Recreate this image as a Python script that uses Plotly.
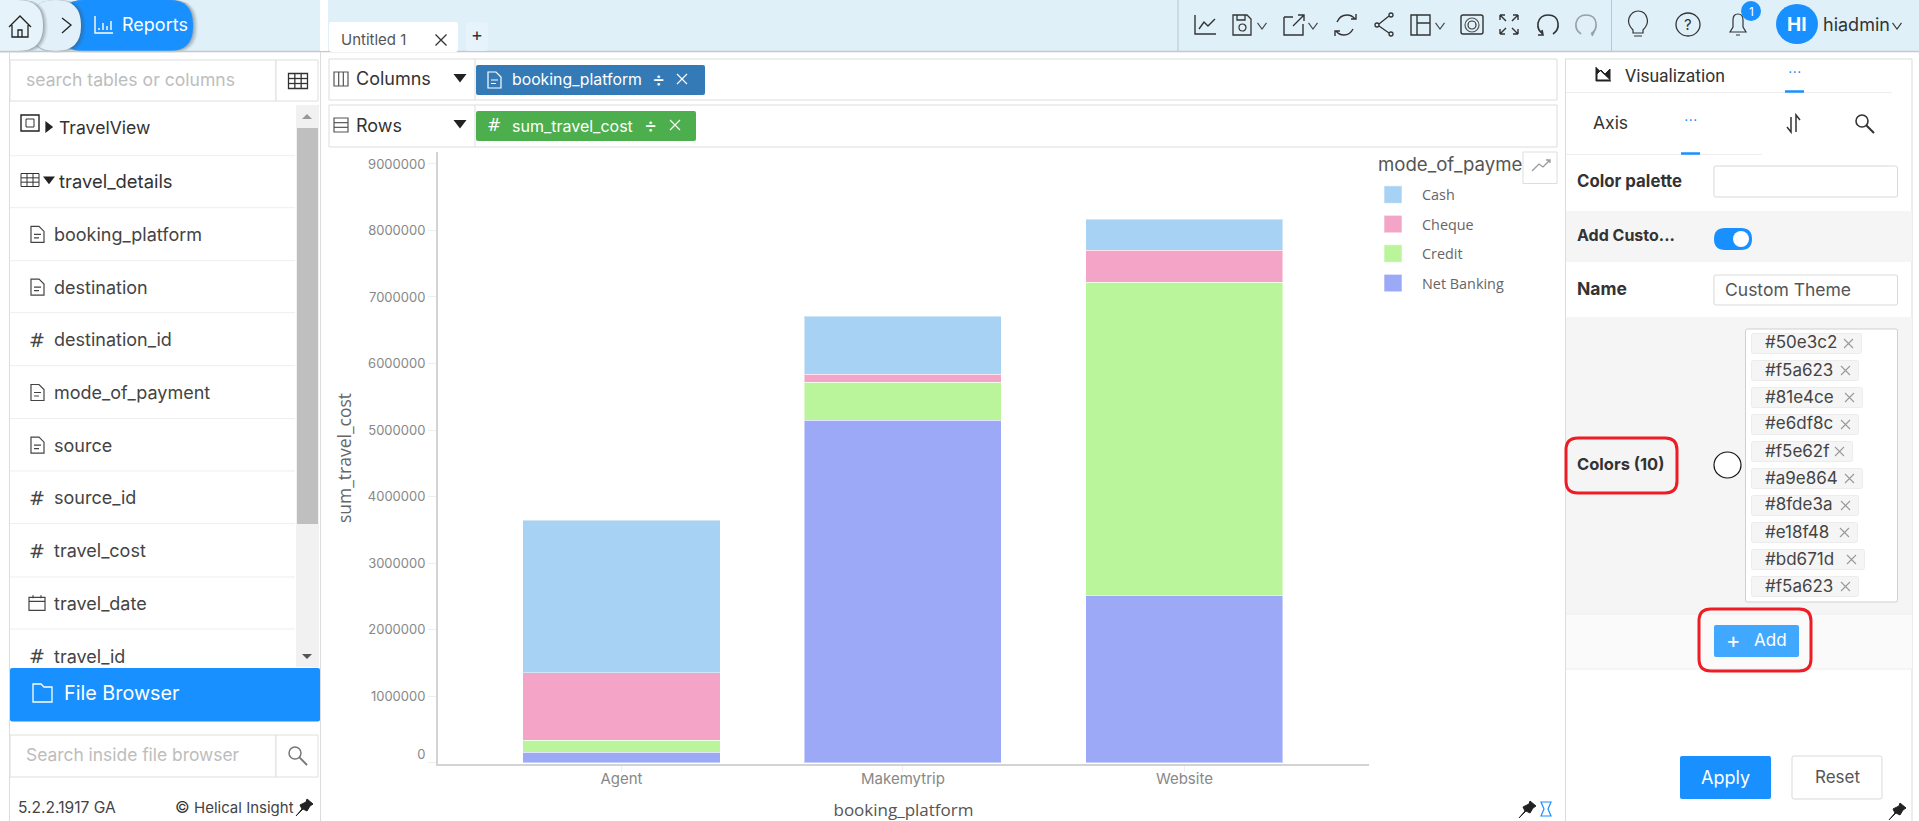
import re
import plotly.graph_objects as go

W, H = 1919, 821

# ---------- chart data ----------
platforms = ["Agent", "Makemytrip", "Website"]
net_banking = [157000, 5144000, 2510000]
credit = [176000, 575000, 4710000]
cheque = [1020000, 118000, 480000]
cash = [2287000, 875000, 470000]
y_ticks = [0, 1000000, 2000000, 3000000, 4000000, 5000000, 6000000, 7000000, 8000000, 9000000]
legend_names = ["Cash", "Cheque", "Credit", "Net Banking"]
legend_colors = ["#a8d2f3", "#f3a4c7", "#baf59c", "#9ba9f6"]

# ---------- interface texts ----------
field_names = ["booking_platform", "destination", "destination_id", "mode_of_payment",
               "source", "source_id", "travel_cost", "travel_date", "travel_id"]
field_kinds = ["doc", "doc", "num", "doc", "doc", "num", "num", "date", "num"]
color_tags = ["#50e3c2", "#f5a623", "#81e4ce", "#e6df8c", "#f5e62f",
              "#a9e864", "#8fde3a", "#e18f48", "#bd671d", "#f5a623"]

UI = "Inter"
OS = "Open Sans"
BLUE = "#1890ff"
shapes, notes = [], []


def fx(x):
    return x / W


def fy(y):
    return 1 - y / H


def rect(x0, y0, x1, y1, fill="rgba(0,0,0,0)", line=None, lw=1):
    shapes.append(dict(type="rect", xref="paper", yref="paper", x0=fx(x0), x1=fx(x1), y0=fy(y0), y1=fy(y1),
                       fillcolor=fill, line=dict(color=line or "rgba(0,0,0,0)", width=lw if line else 0)))


def oval(x0, y0, x1, y1, fill="rgba(0,0,0,0)", line=None, lw=1):
    shapes.append(dict(type="circle", xref="paper", yref="paper", x0=fx(x0), x1=fx(x1), y0=fy(y0), y1=fy(y1),
                       fillcolor=fill, line=dict(color=line or "rgba(0,0,0,0)", width=lw if line else 0)))


def path(d, line="#333", lw=1.5, fill="rgba(0,0,0,0)"):
    out, is_x = [], True
    for tok in re.findall(r"[MLQCZ]|-?[\d.]+", d):
        if tok in "MLQCZ":
            out.append(tok)
            is_x = True
        else:
            v = float(tok)
            out.append(f"{fx(v) if is_x else fy(v):.5f}")
            is_x = not is_x
    s, comma = "", True
    for tok in out:
        if tok in "MLQCZ":
            s += tok
            comma = True
        else:
            s += tok + ("," if comma else " ")
            comma = not comma
    shapes.append(dict(type="path", xref="paper", yref="paper", path=s, fillcolor=fill,
                       line=dict(color=line if line else "rgba(0,0,0,0)", width=lw if line else 0)))


def rrect(x0, y0, x1, y1, r, fill="rgba(0,0,0,0)", line=None, lw=1):
    path(f"M {x0+r} {y0} L {x1-r} {y0} Q {x1} {y0} {x1} {y0+r} L {x1} {y1-r} Q {x1} {y1} {x1-r} {y1} "
         f"L {x0+r} {y1} Q {x0} {y1} {x0} {y1-r} L {x0} {y0+r} Q {x0} {y0} {x0+r} {y0} Z",
         line=line, lw=lw, fill=fill)


def text(x, y, s, size=16, color="#333", font=UI, anchor="left", bold=False, angle=0):
    notes.append(dict(xref="paper", yref="paper", x=fx(x), y=fy(y), text=f"<b>{s}</b>" if bold else s,
                      showarrow=False, xanchor=anchor, yanchor="middle", textangle=angle,
                      borderpad=0, borderwidth=0, font=dict(family=font, size=size, color=color)))


def hline(x0, x1, y, c="#e8e8e8", lw=1):
    path(f"M {x0} {y} L {x1} {y}", line=c, lw=lw)


def vline(x, y0, y1, c="#ddd", lw=1):
    path(f"M {x} {y0} L {x} {y1}", line=c, lw=lw)


def cross(cx, cy, r, c="#333", lw=1.3):
    path(f"M {cx-r} {cy-r} L {cx+r} {cy+r} M {cx-r} {cy+r} L {cx+r} {cy-r}", line=c, lw=lw)


def doc_icon(cx, cy, c="#444"):
    path(f"M {cx-6} {cy-8} L {cx+2} {cy-8} L {cx+7} {cy-3} L {cx+7} {cy+8} L {cx-6} {cy+8} Z", line=c, lw=1.2)
    path(f"M {cx-3} {cy} L {cx+4} {cy} M {cx-3} {cy+3.5} L {cx+2} {cy+3.5}", line=c, lw=1.2)


def num_icon(cx, cy, c="#444"):
    text(cx, cy, "#", 19, c, "DejaVu Sans", "center")


def date_icon(cx, cy, c="#444"):
    rect(cx - 8, cy - 6, cx + 8, cy + 7, line=c, lw=1.2)
    path(f"M {cx-8} {cy-2} L {cx+8} {cy-2} M {cx-4} {cy-8} L {cx-4} {cy-5} M {cx+4} {cy-8} L {cx+4} {cy-5}", line=c, lw=1.2)


def grid_icon(cx, cy, w, h, rows, cols, c="#333", lw=1.2):
    rect(cx - w / 2, cy - h / 2, cx + w / 2, cy + h / 2, line=c, lw=lw)
    for i in range(1, rows):
        yy = cy - h / 2 + h * i / rows
        hline(cx - w / 2, cx + w / 2, yy, c, lw)
    for i in range(1, cols):
        xx = cx - w / 2 + w * i / cols
        vline(xx, cy - h / 2, cy + h / 2, c, lw)


def lens(cx, cy, r, c="#777", lw=1.5):
    oval(cx - r, cy - r, cx + r, cy + r, line=c, lw=lw)
    path(f"M {cx+r*0.7} {cy+r*0.7} L {cx+r*2} {cy+r*2}", line=c, lw=lw + 0.4)


def chevron(cx, cy, c="#444", r=4.5):
    path(f"M {cx-r} {cy-r*0.7} L {cx} {cy+r*0.7} L {cx+r} {cy-r*0.7}", line=c, lw=1.1)


def tri_down(cx, cy, r=6.5, c="#222"):
    path(f"M {cx-r} {cy-r*0.6} L {cx+r} {cy-r*0.6} L {cx} {cy+r*0.7} Z", line=None, fill=c)


def tri_right(cx, cy, r=6, c="#222"):
    path(f"M {cx-r*0.6} {cy-r} L {cx-r*0.6} {cy+r} L {cx+r*0.7} {cy} Z", line=None, fill=c)


def pin(cx, cy, c="#222"):
    path(f"M {cx-8} {cy+8} L {cx-2} {cy+1} L {cx-4} {cy-3} L {cx+2} {cy-6} L {cx+3} {cy-9} L {cx+9} {cy-4} "
         f"L {cx+6} {cy-2} L {cx+3} {cy+3} L {cx-1} {cy+1} Z", line=c, lw=1, fill=c)


def soft_shadow(x0, y0, x1, y1, r):
    for off, alpha in [(1, 0.14), (2, 0.12), (3, 0.10), (4, 0.07), (5, 0.05)]:
        rrect(x0, y0, x1 + off, y1 + off * 0.4, r, f"rgba(70,80,90,{alpha})")


# ---------- top bar ----------
rect(0, 0, W, 51, "#dff0f9")
soft_shadow(60, 0, 193, 51, 24)
rrect(60, 0, 193, 51, 24, BLUE)
soft_shadow(30, 0, 81, 51, 25)
rrect(30, 0, 81, 51, 25, "#e2f1f9")
soft_shadow(-30, 0, 43, 51, 25)
rrect(-30, 0, 43, 51, 25, "#e6f3fa")
hline(0, W, 51.5, "#c8c8c8", 1.5)
rect(320, 0, 328, 51, "#ffffff")
path("M 9 27 L 20 16 L 31 27 M 12 25 L 12 37 L 28 37 L 28 25 M 18 37 L 18 30 L 22 30 L 22 37", line="#222", lw=1.3)
path("M 62 18 L 71 25 L 62 33", line="#222", lw=1.3)
path("M 95 16 L 95 33 L 113 33 M 99 28 L 99 30 M 103 23 L 103 30 M 107 26 L 107 30 M 111 21 L 111 30", line="#fff", lw=1.4)
text(122, 25, "Reports", 18, "#ffffff")
# document tab
rrect(329, 22, 458, 52, 3, "#ffffff")
text(341, 40, "Untitled 1", 15, "#555")
cross(441, 40, 5.5, "#333", 1.3)
rrect(466, 22, 488, 51, 3, "#e6f3fa")
text(477, 35, "+", 18, "#333", anchor="center")
# toolbar
vline(1178, 0, 51, "#bcc6cc")
vline(1611.5, 0, 51, "#bcc6cc")
path("M 1195 15 L 1195 34 L 1216 34 M 1199 29 L 1204 22 L 1208 26 L 1215 19", line="#333", lw=1.4)
path("M 1233 15 L 1247 15 L 1251 19 L 1251 35 L 1233 35 Z M 1237 15 L 1237 20 L 1245 20 L 1245 15", line="#333", lw=1.3)
oval(1239, 24, 1246, 31, line="#333", lw=1.2)
chevron(1262, 26)
path("M 1284 17 L 1284 35 L 1303 35 L 1303 24 M 1284 17 L 1293 17 M 1293 26 L 1304 15 M 1298 15 L 1304 15 L 1304 21", line="#333", lw=1.4)
chevron(1313, 26)
path("M 1337 22 Q 1340 15 1347 15 Q 1352 15 1355 19 M 1353 29 Q 1350 35 1344 35 Q 1339 35 1336 31 M 1351 19 L 1356 19 L 1356 14 M 1340 31 L 1335 31 L 1335 36", line="#333", lw=1.4)
oval(1389, 13, 1393, 17, line="#333", lw=1.3)
oval(1375, 23, 1379, 27, line="#333", lw=1.3)
oval(1389, 32, 1393, 36, line="#333", lw=1.3)
path("M 1379 24 L 1389 16 M 1379 26 L 1389 33", line="#333", lw=1.3)
path("M 1411 15 L 1430 15 L 1430 35 L 1411 35 Z M 1417 15 L 1417 35 M 1417 23 L 1430 23", line="#333", lw=1.4)
chevron(1440, 26)
rrect(1461, 15, 1483, 34, 2, line="#333", lw=1.4)
oval(1465, 18, 1479, 32, line="#555", lw=1.2)
oval(1468, 21, 1476, 29, line="#333", lw=1.2)
path("M 1500 15 L 1506 21 M 1500 15 L 1505 15 M 1500 15 L 1500 20 M 1518 15 L 1512 21 M 1518 15 L 1513 15 M 1518 15 L 1518 20 "
     "M 1500 34 L 1506 28 M 1500 34 L 1505 34 M 1500 34 L 1500 29 M 1518 34 L 1512 28 M 1518 34 L 1513 34 M 1518 34 L 1518 29", line="#333", lw=1.4)
path("M 1543 34 Q 1537 30 1538 23 Q 1540 15 1548 15 Q 1557 15 1558 23 Q 1559 30 1553 34 M 1542 30 L 1543 35 L 1538 35", line="#333", lw=1.6)
path("M 1581 34 Q 1575 30 1576 23 Q 1578 15 1586 15 Q 1595 15 1596 23 Q 1597 30 1591 34 M 1595 30 L 1592 36", line="#97a0a5", lw=1.6)
path("M 1633 30 Q 1627 24 1629 18 Q 1632 11 1638 11 Q 1645 11 1647 18 Q 1649 24 1643 30 L 1643 33 L 1633 33 Z M 1634 36 L 1642 36", line="#333", lw=1.2)
oval(1676, 13, 1700, 36, line="#333", lw=1.3)
text(1688, 25, "?", 15, "#333", anchor="center")
path("M 1730 32 L 1733 27 L 1733 20 Q 1733 14 1738 14 Q 1743 14 1743 20 L 1743 27 L 1746 32 Z M 1736 35 L 1740 35", line="#333", lw=1.2)
oval(1741, 1, 1761, 21, BLUE)
text(1751, 11, "1", 12, "#fff", anchor="center")
oval(1776, 4, 1818, 44, BLUE)
text(1797, 25, "HI", 19, "#ffffff", anchor="center", bold=True)
text(1823, 25, "hiadmin", 18, "#333")
chevron(1897, 26, "#333")

# ---------- left panel ----------
vline(9.5, 52, H, "#dcdcdc")
vline(320.5, 52, H, "#dcdcdc")
rect(10, 60, 276, 101, "#ffffff", "#dedede")
text(26, 80, "search tables or columns", 17.6, "#bdbdbd")
rect(276, 60, 318, 101, "#ffffff", "#dedede")
grid_icon(298, 81, 19, 15, 3, 3, "#333", 1.3)
rect(296, 105, 319, 667, "#f1f1f1")
rect(297, 128, 318, 524, "#bfbfbf")
path("M 302 119 L 312 119 L 307 114 Z", line=None, fill="#999")
path("M 302 654 L 312 654 L 307 659 Z", line=None, fill="#555")
rect(21, 115, 39, 131, line="#222", lw=1.4)
rect(26, 119, 34, 127, line="#333", lw=1)
tri_right(49, 127, 6)
text(59, 127.5, "TravelView", 17.6, "#333")
grid_icon(30, 180, 18, 13, 3, 3, "#333", 1)
tri_down(49, 180, 6, "#222")
text(59, 180.5, "travel_details", 18.4, "#333")
for i, (name, kind) in enumerate(zip(field_names, field_kinds)):
    yy = 234.4 + i * 52.7
    text(54, yy, name, 18, "#444")
    {"doc": doc_icon, "num": num_icon, "date": date_icon}[kind](37, yy)
for yy in [155.7, 207.7, 260.7, 312.7, 365.7, 418.6, 471, 523.6, 577, 629]:
    hline(10, 295, yy, "#eeeeee")
rrect(10, 668, 320, 721.5, 2, BLUE)
path("M 33 684 L 41 684 L 44 687 L 52 687 L 52 702 L 33 702 Z", line="#fff", lw=1.3)
text(64, 693, "File Browser", 19.8, "#ffffff", bold=False)
rect(10, 735, 276, 777, "#ffffff", "#dedede")
text(26, 754, "Search inside file browser", 17.4, "#bdbdbd")
rect(276, 735, 318, 777, "#ffffff", "#dedede")
lens(295, 753, 6)
text(18, 807, "5.2.2.1917 GA", 15.6, "#444")
text(182, 807, "©", 16, "#333", anchor="center")
text(194, 807, "Helical Insight", 15, "#444")
pin(304, 808)

# ---------- shelves ----------
rect(329, 59, 1557, 100, "#ffffff", "#dddddd")
rect(329, 105, 1557, 147, "#ffffff", "#dddddd")
vline(475, 59, 100, "#dddddd")
vline(475, 105, 147, "#dddddd")
vline(320.5, 52, 60, "#dddddd")
grid_icon(341, 79, 14, 14, 1, 3, "#555", 1.2)
grid_icon(341, 125, 14, 14, 3, 1, "#555", 1.2)
text(356, 79, "Columns", 18, "#333")
text(356, 125, "Rows", 18, "#333")
tri_down(460, 78)
tri_down(460, 124)
rrect(476, 65, 705, 95, 2, "#337ab7")
doc_icon(494, 80, "#fff")
text(512, 80, "booking_platform", 15.8, "#ffffff")
text(658, 79, "÷", 20, "#fff", anchor="center")
cross(682, 79, 5, "#fff", 1.2)
rrect(476, 111, 696, 141, 2, "#4cae4c")
text(494, 125, "#", 17, "#fff", "DejaVu Sans", "center")
text(512, 126, "sum_travel_cost", 16, "#ffffff")
text(650, 125, "÷", 20, "#fff", anchor="center")
cross(675, 125, 5, "#fff", 1.2)

# ---------- chart legend, drawn from the series lists ----------
text(1378, 164, "mode_of_payme", 18.6, "#555", UI)
for i, (name, col) in enumerate(zip(legend_names, legend_colors)):
    cy = 194.8 + i * 29.5
    rect(1384, cy - 9, 1402, cy + 8.5, col, "rgba(255,255,255,0.6)")
    text(1421.5, cy, name, 14.4, "#666", OS)
rect(1523, 152, 1557, 183.5, "#ffffff", "#dddddd")
path("M 1532 171 L 1539 164 L 1543 167 L 1550 160 M 1546 160 L 1550 160 L 1550 163", line="#999", lw=1.3)
pin(1527, 810)
path("M 1541 802 L 1551 802 L 1548 809 L 1551 816 L 1541 816 L 1544 809 Z", line="#1890ff", lw=1.2)

# ---------- right panel ----------
vline(1565.5, 59, H, "#dcdcdc")
vline(1912, 59, H, "#dcdcdc")
hline(1565, 1912, 59, "#dcdcdc")
path("M 1596 67 L 1596 81 L 1611 81 M 1597 80 L 1597 74 L 1601 70 L 1605 74 L 1610 69 L 1610 80 Z", line="#222", lw=1, fill="#222")
text(1625, 76, "Visualization", 17.5, "#333", "Roboto")
text(1794, 72, "···", 14, BLUE, "DejaVu Sans", "center")
hline(1566, 1892, 92.5, "#eeeeee")
hline(1785, 1804, 91.5, BLUE, 2.5)
text(1593, 123, "Axis", 17.5, "#333")
text(1690.5, 120, "···", 14, BLUE, "DejaVu Sans", "center")
hline(1566, 1762, 154.5, "#eeeeee")
hline(1681, 1700, 153.5, BLUE, 2.5)
path("M 1791 117 L 1791 132 L 1787 127 M 1796 132 L 1796 115 L 1800 120", line="#333", lw=1.5)
lens(1862, 121, 6, "#333", 1.6)

rect(1566, 211, 1912, 262, "#f5f5f5")
rect(1566, 317, 1912, 614, "#f5f5f5")
rect(1566, 614, 1912, 669, "#fafafa")
hline(1566, 1912, 669, "#eeeeee")
hline(1566, 1912, 614, "#eeeeee")
text(1577, 181, "Color palette", 16.8, "#333", bold=True)
rrect(1714, 166, 1897.5, 197, 2, "#ffffff", "#d9d9d9")
text(1577, 235, "Add Custo...", 16, "#333", bold=True)
rrect(1714, 228, 1752, 250, 11, BLUE)
oval(1733, 231, 1749, 247, "#ffffff")
text(1577, 288.5, "Name", 17.5, "#333", bold=True)
rrect(1714, 275, 1897.5, 305, 2, "#ffffff", "#d9d9d9")
text(1725, 289, "Custom Theme", 17.5, "#555")
text(1577, 464, "Colors (10)", 16.5, "#333", bold=True)
oval(1714, 452, 1741, 478, "#ffffff", "#111111", 1.2)
rrect(1745.5, 329, 1897.5, 602, 2, "#ffffff", "#d0d0d0")
tag_widths = [110, 107, 111, 107, 101, 111, 107, 106, 113, 107]
for i, tag in enumerate(color_tags):
    cy = 343.5 + i * 27
    rrect(1751.5, cy - 10, 1751.5 + tag_widths[i], cy + 10, 2, "#f5f5f5", "#ececec")
    text(1765, cy - 1, tag, 17, "#444")
    cross(1751.5 + tag_widths[i] - 13, cy, 4.5, "#999", 1.1)
rrect(1714, 625, 1799, 657, 2, "#40a9ff")
text(1733, 640, "+", 22, "#ffffff", anchor="center")
text(1754, 640, "Add", 17, "#ffffff")
rrect(1680, 756, 1771, 799, 2, BLUE)
text(1725, 777, "Apply", 18, "#ffffff", anchor="center")
rrect(1792, 756, 1882, 799, 2, "#ffffff", "#d9d9d9")
text(1837, 777, "Reset", 17, "#555", anchor="center")
pin(1897, 812)
rrect(1566, 438, 1677, 493, 12, line="#ee1c25", lw=3)
rrect(1699, 609, 1811, 671, 12, line="#ee1c25", lw=3)

# ---------- figure ----------
fig = go.Figure()
series = [("Net Banking", net_banking), ("Credit", credit), ("Cheque", cheque), ("Cash", cash)]
for name, vals in series:
    col = legend_colors[legend_names.index(name)]
    fig.add_trace(go.Bar(x=platforms, y=vals, name=name, width=0.7, marker=dict(
        color=col, line=dict(color="rgba(255,255,255,0.45)", width=1))))

tick_text = ["0<br>&nbsp;"] + [str(v) for v in y_ticks[1:]]
fig.update_layout(
    width=W, height=H, margin=dict(l=0, r=0, t=0, b=0, pad=0), barmode="stack", showlegend=False,
    paper_bgcolor="#ffffff", plot_bgcolor="rgba(0,0,0,0)", shapes=shapes, annotations=notes,
    font=dict(family=UI),
    xaxis=dict(domain=[438 / W, 1369 / W], range=[-0.652, 2.656], type="category", automargin=False,
               showgrid=False, zeroline=False, showline=True, linecolor="#d3d3d3", linewidth=2,
               ticks="outside", ticklen=6, tickcolor="#eeeeee", ticklabelstandoff=-6,
               tickfont=dict(family=UI, size=15, color="#888"),
               title=dict(text="booking_platform", standoff=20, font=dict(family=OS, size=17, color="#555"))),
    yaxis=dict(domain=[1 - 764 / H, 1 - 152 / H], range=[-22000, 9180000], automargin=False,
               tickvals=y_ticks, ticktext=tick_text, showgrid=False, zeroline=False,
               showline=True, linecolor="#d3d3d3", linewidth=2, ticks="outside", ticklen=8, tickcolor="#eeeeee",
               tickfont=dict(family=UI, size=13, color="#888"),
               title=dict(text="sum_travel_cost", standoff=12, font=dict(family=OS, size=17.5, color="#666"))),
)
fig.write_html("out.html", config=dict(displayModeBar=False),
               post_script="document.body.style.margin='0';document.body.style.overflow='hidden';")
